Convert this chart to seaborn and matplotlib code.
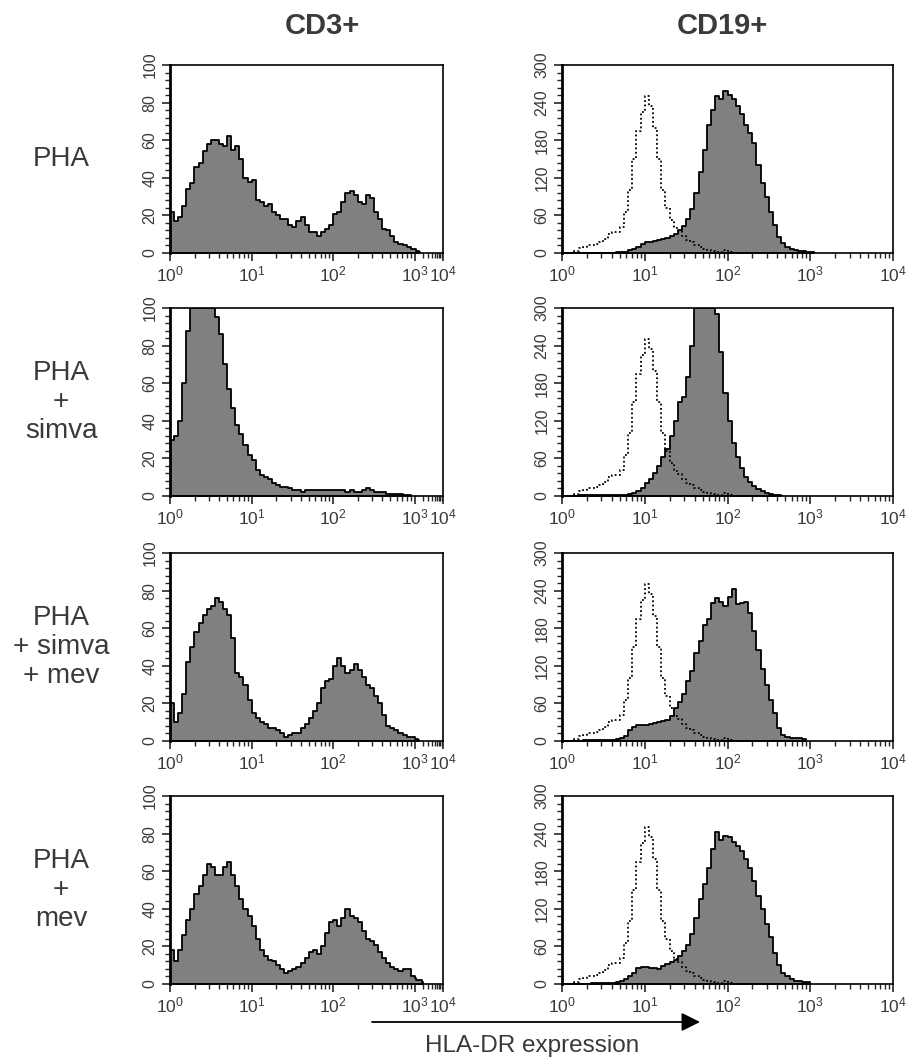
import numpy as np
import pandas as pd
import seaborn as sns
import matplotlib.pyplot as plt

# histogram channels: one value per 0.05 decade, starting at 10^0
BIN = 0.05

# CD3+ cells (counts, y axis 0-100)
cd3_pha = [22, 17, 19, 25, 34, 37, 46, 48, 54, 58, 60, 60, 58, 57, 62, 55, 57, 50, 40, 38,
           39, 28, 27, 25, 26, 22, 20, 18, 18, 15, 14, 17, 19, 15, 11, 11, 9, 11, 13, 15,
           21, 22, 27, 32, 33, 31, 27, 26, 31, 29, 22, 18, 13, 12, 9, 6, 5, 4, 3, 2,
           2, 1, 1, 0.5]
cd3_simva = [30, 32, 40, 60, 88, 100, 100, 100, 100, 100, 100, 95, 86, 70, 57, 47, 38, 33, 27, 22,
             19, 14, 11, 10, 9, 7, 6, 5, 5, 4, 3, 3, 2, 3, 3, 3, 3, 3, 3, 3,
             3, 3, 3, 2, 3, 2, 2, 3, 4, 3, 2, 2, 2, 1, 1, 1, 1, 0.5, 0.5]
cd3_simva_mev = [20, 10, 15, 25, 42, 50, 58, 63, 67, 70, 72, 76, 74, 70, 67, 55, 36, 34, 30, 22,
                 15, 12, 10, 9, 7, 7, 6, 4, 2, 3, 4, 4, 7, 9, 12, 16, 20, 28, 32, 33,
                 40, 44, 40, 36, 38, 41, 38, 34, 30, 28, 24, 20, 14, 8, 7, 6, 4, 3, 2, 2,
                 1, 1, 0.5]
cd3_mev = [18, 12, 18, 26, 34, 40, 48, 52, 58, 64, 62, 58, 58, 62, 65, 58, 52, 45, 40, 36,
           31, 24, 18, 15, 13, 12, 10, 8, 6, 7, 8, 9, 11, 14, 17, 18, 16, 20, 27, 33,
           34, 31, 35, 40, 36, 35, 33, 28, 24, 23, 21, 17, 14, 11, 9, 8, 7, 8, 8, 4,
           3, 2, 2, 2, 2, 1]

# CD19+ cells (counts, y axis 0-300)
cd19_pha = [0, 0, 0, 0, 0, 0, 0, 0, 0, 0, 0, 0, 0, 1, 1, 2, 4, 7, 10, 14,
            17, 18, 19, 21, 22, 24, 27, 31, 36, 43, 55, 70, 95, 130, 165, 205, 228, 250, 245, 258,
            252, 245, 235, 222, 205, 192, 175, 140, 112, 90, 65, 45, 26, 16, 10, 6, 4, 3, 3, 2,
            2]
cd19_simva = [0, 0, 0, 0, 2, 2, 2, 2, 2, 2, 2, 2, 2, 2, 2, 2, 3, 5, 8, 13,
              20, 27, 36, 48, 62, 75, 95, 120, 150, 158, 190, 240, 300, 300, 300, 300, 300, 290, 230, 165,
              120, 85, 62, 45, 31, 22, 16, 11, 8, 5, 3, 2, 1]
cd19_simva_mev = [0, 0, 0, 0, 0, 1, 2, 2, 2, 2, 2, 2, 2, 3, 5, 8, 18, 22, 25, 26,
                  26, 27, 28, 30, 32, 34, 40, 52, 62, 75, 95, 112, 140, 160, 185, 195, 220, 228, 222, 215,
                  230, 242, 218, 220, 222, 205, 175, 145, 115, 90, 65, 45, 20, 10, 7, 5, 4, 4, 3]
cd19_mev = [0, 0, 0, 0, 0, 0, 0, 1, 2, 2, 2, 2, 2, 3, 5, 8, 12, 18, 26, 27,
            27, 26, 25, 24, 28, 32, 35, 38, 45, 52, 62, 80, 105, 135, 160, 185, 215, 242, 230, 236,
            234, 226, 220, 212, 200, 185, 165, 140, 120, 95, 75, 50, 30, 18, 12, 8, 5, 4, 3, 3]
# isotype control (dotted), same in every CD19+ panel
iso_ctrl = [0, 0, 0, 3, 8, 10, 12, 13, 15, 18, 22, 30, 33, 33, 42, 65, 100, 150, 195, 225,
            250, 235, 200, 150, 100, 72, 52, 40, 35, 27, 20, 17, 13, 10, 7, 5, 3, 2, 2, 4,
            1, 0, 0, 0, 0, 0, 0, 0, 0, 0, 0, 0, 0, 0]

row_labels = ["PHA", "PHA\n+\nsimva", "PHA\n+ simva\n+ mev", "PHA\n+\nmev"]
col_titles = ["CD3+", "CD19+"]
cd3_rows = [cd3_pha, cd3_simva, cd3_simva_mev, cd3_mev]
cd19_rows = [cd19_pha, cd19_simva, cd19_simva_mev, cd19_mev]

sns.set_style("ticks")
plt.rcParams['font.family'] = ['Liberation Sans', 'DejaVu Sans']
TXT = '#3a3a3a'

W, H = 907, 1061
fig = plt.figure(figsize=(W / 100, H / 100), dpi=100)

# left column squeezes the last decade (10^3-10^4) like in the original
K = 28 / 81.0


def fwd(l):
    l = np.asarray(l, dtype=float)
    return np.where(l <= 3, l, 3 + (l - 3) * K)


def inv(u):
    u = np.asarray(u, dtype=float)
    return np.where(u <= 3, u, 3 + (u - 3) / K)


def hist(ax, counts, filled=True):
    n = len(counts)
    centers = np.arange(n) * BIN + BIN / 2
    df = pd.DataFrame({'logx': centers, 'n': counts})
    if filled:
        sns.histplot(data=df, x='logx', weights='n', binwidth=BIN, binrange=(0, n * BIN),
                     element='step', fill=True, color='#808080', edgecolor='black',
                     linewidth=1.3, alpha=1, ax=ax)
    else:
        sns.histplot(data=df, x='logx', weights='n', binwidth=BIN, binrange=(0, n * BIN),
                     element='step', fill=False, color='black', linewidth=1.3,
                     linestyle=(0, (1, 1.4)), ax=ax)


def style(ax, ymax, ystep):
    ax.set_xlim(0, 4)
    ax.set_ylim(0, ymax)
    ax.set_xlabel('')
    ax.set_ylabel('')
    ax.set_xticks(range(5))
    ax.set_xticklabels([r'$\mathregular{10^{%d}}$' % k for k in range(5)])
    ax.set_xticks([k + np.log10(m) for k in range(4) for m in range(2, 10)], minor=True)
    ax.set_yticks(np.arange(0, ymax + 1, ystep))
    ax.set_yticks(np.arange(0, ymax + 1, ystep / 5), minor=True)
    ax.tick_params(axis='both', which='major', direction='out', length=6, width=1.2,
                   labelcolor=TXT, pad=2)
    ax.tick_params(axis='x', which='major', labelsize=12.5)
    ax.tick_params(axis='y', which='major', labelsize=11.5, pad=3)
    ax.tick_params(axis='both', which='minor', direction='out', length=3.5, width=1.0)
    for lab in ax.get_yticklabels():
        lab.set_rotation(90)
        lab.set_va('center')
    for s in ax.spines.values():
        s.set_visible(True)
        s.set_linewidth(1.2)
        s.set_color('black')
    ax.spines['left'].set_linewidth(2)


row_tops = [65, 308, 553, 796]
ph = 188
for i in range(4):
    b = 1 - (row_tops[i] + ph) / H
    axl = fig.add_axes([170 / W, b, 273 / W, ph / H])
    hist(axl, cd3_rows[i])
    axl.set_xscale('function', functions=(fwd, inv))
    style(axl, 100, 20)

    axr = fig.add_axes([562 / W, b, 331 / W, ph / H])
    hist(axr, cd19_rows[i])
    hist(axr, iso_ctrl, filled=False)
    style(axr, 300, 60)

    fig.text(61 / W, 1 - (row_tops[i] + ph / 2) / H, row_labels[i], ha='center', va='center',
             fontsize=20, color=TXT, linespacing=1.15)

fig.text(322 / W, 1 - 26 / H, col_titles[0], ha='center', va='center', fontsize=21,
         fontweight='bold', color=TXT)
fig.text(722 / W, 1 - 26 / H, col_titles[1], ha='center', va='center', fontsize=21,
         fontweight='bold', color=TXT)

fig.add_artist(plt.Annotation('', xy=(700 / W, 1 - 1022 / H), xytext=(372 / W, 1 - 1022 / H),
                              xycoords='figure fraction', textcoords='figure fraction',
                              arrowprops=dict(arrowstyle='-|>', color='black', lw=1.3,
                                              mutation_scale=28, shrinkA=0, shrinkB=0)))
fig.text(532 / W, 1 - 1046 / H, 'HLA-DR expression', ha='center', va='center', fontsize=17.5,
         color=TXT)

fig.savefig('out.png', dpi=100)
